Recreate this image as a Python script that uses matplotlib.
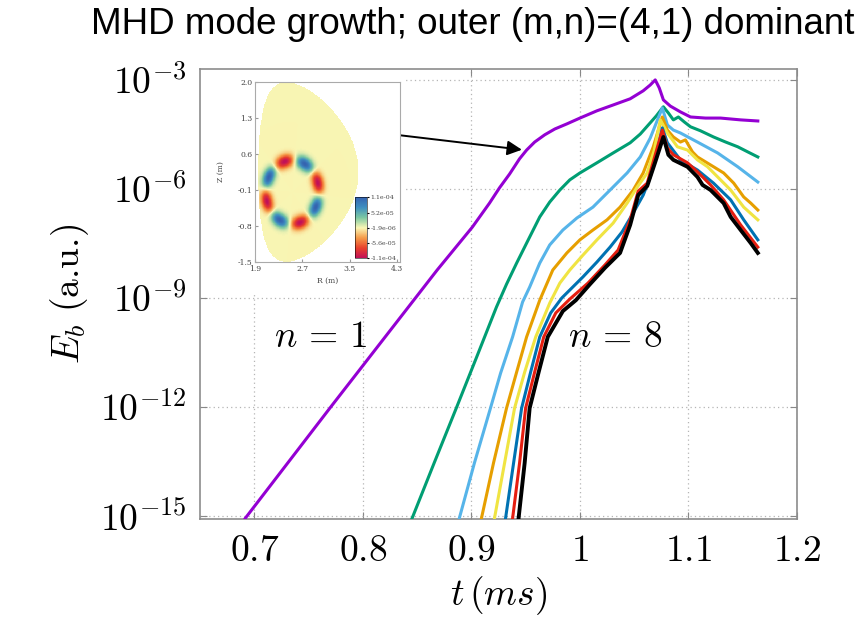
import numpy as np
import matplotlib
matplotlib.use("Agg")
import matplotlib.pyplot as plt
from matplotlib.patches import Rectangle
from matplotlib.path import Path
from matplotlib.ticker import NullLocator
from matplotlib.colors import LinearSegmentedColormap

plt.rcParams['mathtext.fontset'] = 'cm'
plt.rcParams['font.family'] = 'DejaVu Serif'

# time (ms) and log10(E_b) for each toroidal mode n = 1..8
t_n1 = [0.6917, 0.7704, 0.8685, 0.9009, 0.9167, 0.9259, 0.9352, 0.9444, 0.9509, 0.9583, 0.9676,
        0.9769, 0.9880, 1.0, 1.0157, 1.0306, 1.0463, 1.0583, 1.0648, 1.0694, 1.0731, 1.0769,
        1.0833, 1.0926, 1.1019, 1.1157, 1.1296, 1.1481, 1.1639]
lE_n1 = [-15.06, -12.0, -8.23, -7.05, -6.39, -5.97, -5.59, -5.17, -4.93, -4.71, -4.51,
         -4.35, -4.21, -4.05, -3.85, -3.69, -3.52, -3.30, -3.14, -3.0, -3.22, -3.55,
         -3.72, -3.88, -4.02, -4.05, -4.05, -4.10, -4.13]

t_n2 = [0.8454, 0.8657, 0.8861, 0.9056, 0.9231, 0.9324, 0.9417, 0.9509, 0.9630, 0.9722, 0.9815,
        0.9907, 1.0, 1.0157, 1.0306, 1.0463, 1.0556, 1.0648, 1.0704, 1.0769, 1.0815, 1.0861,
        1.0907, 1.0963, 1.1019, 1.1111, 1.1231, 1.1343, 1.1454, 1.1546, 1.1639]
lE_n2 = [-15.06, -13.54, -12.03, -10.57, -9.25, -8.62, -8.04, -7.49, -6.77, -6.36, -6.03,
         -5.75, -5.56, -5.28, -5.01, -4.73, -4.49, -4.18, -3.99, -3.74, -3.91, -4.10,
         -4.02, -4.16, -4.29, -4.40, -4.57, -4.71, -4.84, -4.98, -5.12]

t_n3 = [0.8889, 0.9028, 0.9176, 0.9269, 0.9380, 0.9472, 0.9537, 0.9630, 0.9722, 0.9843, 0.9972,
        1.0120, 1.0278, 1.0435, 1.0556, 1.0648, 1.0704, 1.0759, 1.0806, 1.0861, 1.0926, 1.1083,
        1.1269, 1.1454, 1.1639]
lE_n3 = [-15.06, -13.54, -12.03, -11.07, -10.07, -9.11, -8.70, -8.04, -7.54, -7.13, -6.80,
         -6.50, -6.03, -5.56, -5.12, -4.60, -4.18, -3.77, -4.24, -4.38, -4.46, -4.71,
         -5.01, -5.39, -5.81]

t_n4 = [0.9093, 0.9204, 0.9324, 0.9417, 0.9509, 0.9630, 0.9750, 0.9880, 1.0, 1.0120, 1.0250,
        1.0370, 1.0491, 1.0583, 1.0676, 1.0759, 1.0806, 1.0861, 1.0926, 1.0972, 1.1037, 1.1083,
        1.1204, 1.1324, 1.1417, 1.1509, 1.1574, 1.1639]
lE_n4 = [-15.06, -13.54, -12.03, -11.04, -10.07, -9.06, -8.23, -7.76, -7.40, -7.13, -6.85,
         -6.50, -6.03, -5.56, -4.84, -4.02, -4.38, -4.57, -4.71, -4.65, -4.98, -5.12,
         -5.34, -5.56, -5.84, -6.22, -6.39, -6.58]

t_n5 = [0.9213, 0.9306, 0.9398, 0.9491, 0.9593, 0.9722, 0.9815, 0.9907, 1.0028, 1.0157, 1.0306,
        1.0435, 1.0528, 1.0620, 1.0685, 1.0741, 1.0806, 1.0898, 1.0991, 1.1083, 1.1176, 1.1269,
        1.1389, 1.1509, 1.1639]
lE_n5 = [-15.06, -13.54, -12.03, -11.04, -10.07, -9.14, -8.59, -8.23, -7.82, -7.40, -6.94,
         -6.39, -5.95, -5.56, -4.93, -4.10, -4.46, -4.84, -4.93, -5.20, -5.39, -5.67,
         -6.03, -6.50, -6.85]

t_n6 = [0.9315, 0.9389, 0.9463, 0.9546, 0.9630, 0.9731, 0.9833, 1.0028, 1.0157, 1.0278, 1.0389,
        1.0491, 1.0583, 1.0648, 1.0704, 1.0759, 1.0806, 1.0926, 1.1083, 1.1231, 1.1389, 1.1509,
        1.1639]
lE_n6 = [-15.06, -13.54, -12.03, -11.04, -10.07, -9.41, -9.0, -8.42, -8.01, -7.60, -7.18,
         -6.66, -6.17, -5.67, -5.06, -4.32, -4.73, -5.20, -5.48, -5.84, -6.30, -6.85,
         -7.40]

t_n7 = [0.9380, 0.9444, 0.9500, 0.9583, 0.9667, 0.9778, 0.9907, 1.0074, 1.0231, 1.0352, 1.0463,
        1.0537, 1.0620, 1.0694, 1.0759, 1.0806, 1.0861, 1.0991, 1.1083, 1.1204, 1.1324, 1.1481,
        1.1574, 1.1639]
lE_n7 = [-15.06, -13.54, -12.03, -11.04, -10.07, -9.41, -9.03, -8.59, -8.09, -7.68, -6.85,
         -6.06, -5.84, -5.06, -4.38, -4.87, -5.06, -5.28, -5.53, -5.89, -6.30, -6.99,
         -7.35, -7.60]

t_n8 = [0.9435, 0.9491, 0.9537, 0.9620, 0.9704, 0.9843, 0.9963, 1.0093, 1.0231, 1.0370, 1.0463,
        1.0537, 1.0620, 1.0694, 1.0769, 1.0815, 1.0861, 1.0991, 1.1083, 1.1130, 1.1204, 1.1324,
        1.1389, 1.1481, 1.1574, 1.1639]
lE_n8 = [-15.06, -13.54, -12.03, -11.04, -10.07, -9.36, -9.06, -8.62, -8.17, -7.76, -6.99,
         -6.17, -5.92, -5.26, -4.57, -5.06, -5.20, -5.39, -5.67, -5.89, -6.03, -6.39,
         -6.77, -7.13, -7.49, -7.76]

times = [t_n1, t_n2, t_n3, t_n4, t_n5, t_n6, t_n7, t_n8]
energies = [lE_n1, lE_n2, lE_n3, lE_n4, lE_n5, lE_n6, lE_n7, lE_n8]
colors = ['#9400d3', '#009e73', '#56b4e9', '#e69f00', '#f0e442', '#0072b2', '#e51e10', 'black']

x_ticks = [0.7, 0.8, 0.9, 1.0, 1.1, 1.2]
x_labels = [r'$0.7$', r'$0.8$', r'$0.9$', r'$1$', r'$1.1$', r'$1.2$']
y_ticks = [1e-15, 1e-12, 1e-9, 1e-6, 1e-3]
y_labels = [r'$10^{-15}$', r'$10^{-12}$', r'$10^{-9}$', r'$10^{-6}$', r'$10^{-3}$']

# poloidal cross-section (inset): plasma boundary and the ring of perturbation lobes
R0, a_minor, kappa, delta, Z0 = 2.80, 0.85, 2.06, 0.45, 0.25
ring_R, ring_Z = 2.53, -0.14
ring_aR, ring_aZ = 0.45, 0.62
ring_width = 0.2
m_pol = 4
phase_deg = 62.0
amp = 1.1e-4
cbar_ticks = [1.1e-4, 5.2e-5, -1.9e-6, -5.6e-5, -1.1e-4]
inset_xticks = [1.9, 2.7, 3.5, 4.3]
inset_yticks = [2.0, 1.3, 0.6, -0.1, -0.8, -1.5]
field_colors = ['#c0105a', '#e8402c', '#f59a48', '#faf6b4', '#7cc8a2', '#3f8fc0', '#3563b0']

fig = plt.figure(figsize=(8.63, 6.31), dpi=100)
ax = fig.add_axes([200 / 863, 112 / 631, 597 / 863, 450 / 631])

for t, le, c in zip(times, energies, colors):
    lw = 2.8 if c == 'black' else 2.2
    ax.plot(t, 10.0 ** np.array(le), color=c, lw=lw, zorder=3,
            solid_joinstyle='round')

ax.set_yscale('log')
ax.set_xlim(0.65, 1.2)
ax.set_ylim(10 ** -15.08, 10 ** -2.7)
ax.set_xticks(x_ticks)
ax.set_xticklabels(x_labels)
ax.set_yticks(y_ticks)
ax.set_yticklabels(y_labels)
ax.yaxis.set_minor_locator(NullLocator())
ax.tick_params(direction='in', length=5, color='#888888', top=True, right=True,
               labelsize=27, pad=10)
ax.set_axisbelow(True)
ax.grid(True, color='#b5b5b5', lw=0.9, ls=(0, (1, 2.5)))
for s in ax.spines.values():
    s.set_color('#8c8c8c')
    s.set_linewidth(1.2)

ax.set_xlabel(r'$t\,(ms)$', fontsize=27, labelpad=4)
ax.set_ylabel(r'$E_b\ \text{(a.u.)}$', fontsize=27, labelpad=6)

ax.text(0.7611, 10 ** -10.07, r'$n\,=\,1$', fontsize=27, ha='center', va='center')
ax.text(1.0324, 10 ** -10.07, r'$n\,=\,8$', fontsize=27, ha='center', va='center')

# white backing for the inset picture
ax.add_patch(Rectangle((0, 0.504), 0.34, 0.496, transform=ax.transAxes,
                       facecolor='white', edgecolor='none', zorder=1))

ax.annotate('', xy=(0.9491, 10 ** -4.93), xytext=(0.8306, 10 ** -4.51),
            arrowprops=dict(arrowstyle='-|>', color='black', lw=1.4, mutation_scale=22),
            zorder=4)

fig.text(473 / 863, 1 - 25 / 631, 'MHD mode growth; outer (m,n)=(4,1) dominant',
         family='Liberation Sans', fontsize=26.5, ha='center', va='center')

# inset: mode structure on the poloidal plane
ax_in = fig.add_axes([255 / 863, 369 / 631, 145 / 863, 180 / 631])
Rg = np.linspace(1.9, 4.35, 400)
Zg = np.linspace(-1.5, 2.0, 500)
RR, ZZ = np.meshgrid(Rg, Zg)
theta = np.linspace(0, 2 * np.pi, 300)
bR = R0 + a_minor * np.cos(theta + delta * np.sin(theta))
bZ = Z0 + kappa * a_minor * np.sin(theta)
inside = Path(np.column_stack([bR, bZ])).contains_points(
    np.column_stack([RR.ravel(), ZZ.ravel()])).reshape(RR.shape)
xr = (RR - ring_R) / ring_aR
yr = (ZZ - ring_Z) / ring_aZ
rho = np.hypot(xr, yr)
th = np.arctan2(yr, xr)
ang = np.cos(m_pol * (th - np.radians(phase_deg)))
field = amp * ang * np.exp(-((rho - 1) / ring_width) ** 2)
field = np.ma.masked_where(~inside, field)
cmap = LinearSegmentedColormap.from_list('lobes', field_colors)
im = ax_in.imshow(field, origin='lower', extent=[Rg[0], Rg[-1], Zg[0], Zg[-1]],
                  cmap=cmap, vmin=-amp, vmax=amp, aspect='auto',
                  interpolation='nearest')
ax_in.set_xlim(1.9, 4.35)
ax_in.set_ylim(-1.5, 2.0)
ax_in.set_xticks(inset_xticks)
ax_in.set_yticks(inset_yticks)
ax_in.set_xticklabels(['%.1f' % v for v in inset_xticks])
ax_in.set_yticklabels(['%.1f' % v for v in inset_yticks])
ax_in.tick_params(direction='in', length=2, labelsize=5.5, pad=2, color='#999999',
                  labelcolor='#444444')
for s in ax_in.spines.values():
    s.set_color('#aaaaaa')
    s.set_linewidth(0.8)
ax_in.set_xlabel('R (m)', fontsize=5.5, labelpad=3, color='#444444')
ax_in.set_ylabel('Z (m)', fontsize=5.5, labelpad=9, color='#444444')

cax = ax_in.inset_axes([0.69, 0.02, 0.083, 0.34])
cb = fig.colorbar(im, cax=cax, ticks=cbar_ticks)
cb.ax.set_yticklabels(['%.1e' % v for v in cbar_ticks])
cb.ax.tick_params(labelsize=4.5, length=1.5, pad=1, labelcolor='#444444')
cb.outline.set_linewidth(0.4)

fig.savefig('out.png', dpi=100)
